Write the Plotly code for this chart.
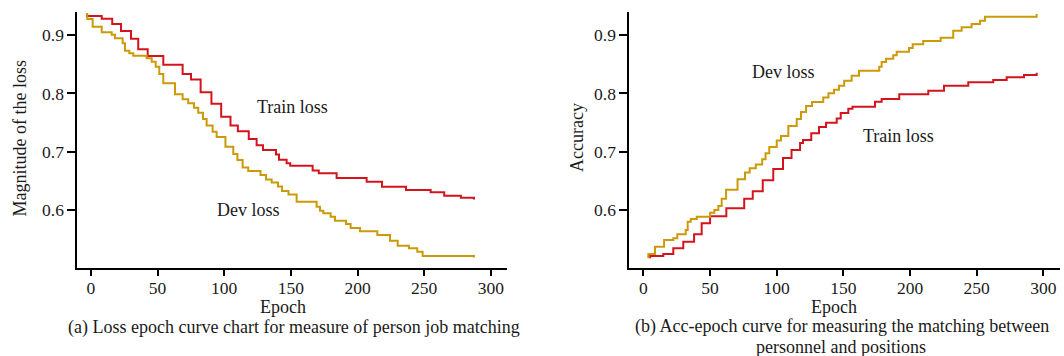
import plotly.graph_objects as go

# ---------------- data ----------------
# (a) Loss-epoch curves
loss_train_epoch = [-3.7, 8.1, 16.0, 22.6, 30.1, 35.5, 42.6, 54.3, 68.8, 75.1, 82.3, 90.4, 97.7,
                    104.7, 110.2, 118.4, 124.3, 129.1, 138.8, 141.1, 146.8, 149.5, 166.3, 170.9,
                    184.3, 206.8, 218.3, 236.3, 254.8, 265.0, 277.5, 287.3]
loss_train_value = [0.9325, 0.9279, 0.9188, 0.9068, 0.8937, 0.8755, 0.8641, 0.8492, 0.8333, 0.8238,
                    0.8019, 0.7824, 0.7600, 0.7451, 0.7354, 0.7220, 0.7112, 0.7032, 0.6955, 0.6866,
                    0.6804, 0.6761, 0.6681, 0.6633, 0.6553, 0.6489, 0.6404, 0.6347, 0.6308, 0.6250,
                    0.6215, 0.6185]

loss_dev_epoch = [-3.7, -2.7, 1.3, 8.1, 15.6, 18.1, 23.8, 25.6, 28.8, 31.8, 41.8, 45.6, 48.6, 51.3,
                  54.3, 63.1, 68.8, 73.0, 77.3, 80.5, 84.1, 86.8, 91.3, 94.3, 100.9, 106.8, 109.9,
                  113.8, 118.0, 127.2, 131.3, 135.6, 140.3, 143.3, 148.2, 154.3, 169.3, 171.8, 174.3,
                  179.8, 183.1, 191.3, 194.8, 201.8, 214.8, 224.3, 230.1, 238.5, 244.8, 248.8, 287.3]
loss_dev_value = [0.9359, 0.9274, 0.9142, 0.9046, 0.9005, 0.8944, 0.8858, 0.8731, 0.8687, 0.8646,
                  0.8601, 0.8543, 0.8457, 0.8333, 0.8173, 0.7985, 0.7900, 0.7831, 0.7756, 0.7670,
                  0.7562, 0.7451, 0.7345, 0.7254, 0.7088, 0.6963, 0.6861, 0.6732, 0.6672, 0.6604,
                  0.6527, 0.6476, 0.6407, 0.6330, 0.6270, 0.6147, 0.6061, 0.5993, 0.5948, 0.5890,
                  0.5822, 0.5765, 0.5697, 0.5640, 0.5577, 0.5480, 0.5394, 0.5349, 0.5291, 0.5218,
                  0.5192]

# (b) Acc-epoch curves
acc_dev_epoch = [3.7, 3.7, 8.7, 15.5, 22.4, 25.4, 31.7, 33.2, 35.5, 40.0, 50.0, 53.2, 56.2, 58.7,
                 62.0, 70.6, 76.2, 79.7, 84.3, 89.1, 91.6, 94.4, 100.0, 103.2, 108.7, 115.0, 118.2,
                 122.0, 126.5, 134.9, 138.8, 143.0, 146.7, 150.6, 156.2, 161.7, 176.9, 178.7, 182.0,
                 187.4, 190.0, 199.2, 202.0, 209.9, 223.0, 232.4, 238.7, 246.2, 252.5, 256.2, 295.0]
acc_dev_value = [0.5178, 0.5252, 0.5377, 0.5492, 0.5521, 0.5589, 0.5663, 0.5805, 0.5851, 0.5890,
                 0.5959, 0.6005, 0.6073, 0.6198, 0.6352, 0.6532, 0.6647, 0.6719, 0.6784, 0.6873,
                 0.6975, 0.7083, 0.7194, 0.7271, 0.7443, 0.7562, 0.7682, 0.7785, 0.7853, 0.7930,
                 0.8002, 0.8064, 0.8131, 0.8218, 0.8302, 0.8389, 0.8457, 0.8538, 0.8594, 0.8653,
                 0.8714, 0.8778, 0.8841, 0.8897, 0.8954, 0.9074, 0.9132, 0.9188, 0.9245, 0.9313,
                 0.9359]

acc_train_epoch = [5.0, 5.0, 14.9, 22.4, 29.9, 38.0, 43.7, 50.0, 62.2, 75.6, 82.0, 89.5, 97.4, 104.7,
                   111.1, 117.5, 119.7, 125.9, 131.7, 137.0, 145.0, 148.0, 153.7, 156.8, 173.7,
                   178.7, 191.9, 213.7, 225.5, 243.7, 262.4, 272.5, 285.5, 295.0]
acc_train_value = [0.5178, 0.5218, 0.5252, 0.5349, 0.5462, 0.5589, 0.5777, 0.5897, 0.6034, 0.6198,
                   0.6325, 0.6513, 0.6707, 0.6895, 0.7032, 0.7152, 0.7203, 0.7318, 0.7425, 0.7499,
                   0.7571, 0.7665, 0.7737, 0.7773, 0.7858, 0.7905, 0.7985, 0.8047, 0.8132, 0.8190,
                   0.8230, 0.8276, 0.8315, 0.8355]

x_ticks = [0, 50, 100, 150, 200, 250, 300]
y_ticks = [0.6, 0.7, 0.8, 0.9]

RED = "#d4141c"
GOLD = "#cc9a08"
FONT = "Liberation Serif"
TXT = "#1a1a1a"

W, H = 1064, 356

fig = go.Figure()

def step(x, y, color, xa, ya):
    fig.add_trace(go.Scatter(x=x, y=y, mode="lines", line=dict(color=color, width=2, shape="hv"),
                             xaxis=xa, yaxis=ya, showlegend=False, hoverinfo="skip"))

step(loss_train_epoch, loss_train_value, RED, "x", "y")
step(loss_dev_epoch, loss_dev_value, GOLD, "x", "y")
step(acc_train_epoch, acc_train_value, RED, "x2", "y2")
step(acc_dev_epoch, acc_dev_value, GOLD, "x2", "y2")

ydom = [1 - 268.3 / H, 1 - 12 / H]
axis_common = dict(showline=True, linecolor="black", linewidth=1.8, showgrid=False, zeroline=False,
                   ticks="outside", tickcolor="black", tickwidth=1.6,
                   tickfont=dict(family=FONT, size=17.5, color=TXT))

fig.update_layout(
    width=W, height=H, margin=dict(l=0, r=0, t=0, b=0),
    paper_bgcolor="white", plot_bgcolor="white",
    xaxis=dict(domain=[77.3 / W, 507.3 / W], range=[-10.2, 312.3], tickvals=x_ticks, ticklen=6,
               ticklabelstandoff=-3, anchor="y", **axis_common),
    yaxis=dict(domain=ydom, range=[0.5007, 0.9394], tickvals=y_ticks, tickformat=".1f", ticklen=8,
               anchor="x", **axis_common),
    xaxis2=dict(domain=[629.3 / W, 1060 / W], range=[-10.6, 312.5], tickvals=x_ticks, ticklen=6,
                ticklabelstandoff=-3, anchor="y2", **axis_common),
    yaxis2=dict(domain=ydom, range=[0.5007, 0.9394], tickvals=y_ticks, tickformat=".1f", ticklen=8,
                anchor="x2", **axis_common),
)

def note(text, px, py, size=18, angle=0):
    fig.add_annotation(text=text, x=px / W, y=1 - py / H, xref="paper", yref="paper",
                       xanchor="center", yanchor="middle", showarrow=False, textangle=angle,
                       font=dict(family=FONT, size=size, color=TXT))

# series labels
note("Train loss", 292.5, 107)
note("Dev loss", 248.8, 209.5)
note("Dev loss", 783, 72)
note("Train loss", 898.3, 135.5)

# axis titles
note("Magnitude of the loss", 19, 138.5, angle=-90)
note("Accuracy", 577, 138, angle=-90)
note("Epoch", 282.5, 306.5)
note("Epoch", 834, 307)

# captions
note("(a) Loss epoch curve chart for measure of person job matching", 294, 327.5)
note("(b) Acc-epoch curve for measuring the matching between", 841.7, 326.5)
note("personnel and positions", 841, 346.5)

fig.write_html("out.html")
